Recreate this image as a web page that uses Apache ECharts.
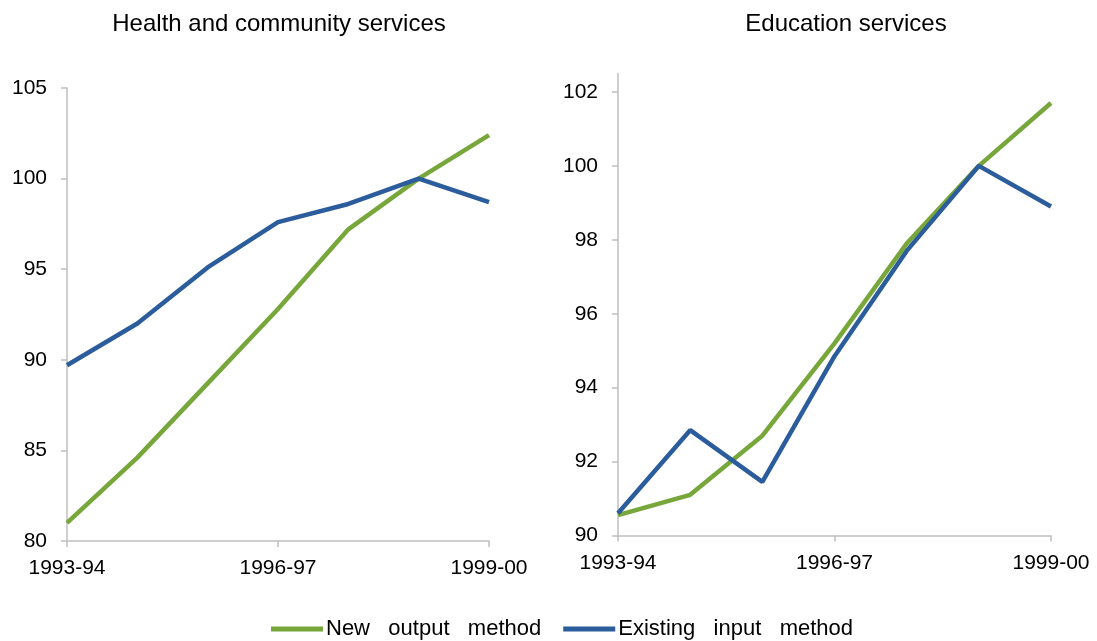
<!DOCTYPE html>
<html>
<head>
<meta charset="utf-8">
<script src="https://cdn.jsdelivr.net/npm/echarts@6/dist/echarts.min.js"></script>
<style>
html,body{margin:0;padding:0;background:#fff;}
#chart{width:1097px;height:641px;}
</style>
</head>
<body>
<div id="chart"></div>
<script>
const categories = ['1993-94','1994-95','1995-96','1996-97','1997-98','1998-99','1999-00'];
const seriesNames = ['New output method','Existing input method'];
const panelTitles = ['Health and community services','Education services'];

const healthNew = [81.0, 84.6, 88.7, 92.8, 97.2, 100.0, 102.4];
const healthExisting = [89.7, 92.0, 95.1, 97.6, 98.6, 100.0, 98.7];
const educationNew = [90.55, 91.1, 92.7, 95.2, 97.9, 100.0, 101.7];
const educationExisting = [90.6, 92.85, 91.45, 94.85, 97.7, 100.0, 98.9];

const healthTicks = [80, 85, 90, 95, 100, 105];
const educationTicks = [90, 92, 94, 96, 98, 100, 102];

const green = '#77A63A';
const blue = '#2B5C9C';
const axisGray = '#BFBFBF';
const font = 'Liberation Sans, Arial, sans-serif';

function xAxis(gi){
  return {
    type:'category', gridIndex:gi, data:categories, boundaryGap:false,
    axisLine:{lineStyle:{color:axisGray,width:1.5}},
    axisTick:{show:true, interval:2, length:6, lineStyle:{color:axisGray,width:1.5}},
    axisLabel:{interval:2, color:'#000', fontSize:21, fontFamily:font, margin:17},
    splitLine:{show:false}
  };
}
function yAxis(gi, min, max, interval, ticks){
  return {
    type:'value', gridIndex:gi, min:min, max:max, interval:interval,
    axisLine:{show:true, lineStyle:{color:axisGray,width:1.5}},
    axisTick:{show:true, length:6, inside:false, customValues:ticks, lineStyle:{color:axisGray,width:1.5}},
    axisLabel:{color:'#000', fontSize:21, fontFamily:font, margin:20, customValues:ticks},
    splitLine:{show:false}
  };
}
function line(name, xi, data, color){
  return {
    name:name, type:'line', xAxisIndex:xi, yAxisIndex:xi, data:data,
    symbol:'none', showSymbol:false, smooth:false,
    lineStyle:{color:color, width:4.5}, itemStyle:{color:color},
    z: color===blue ? 3 : 2, animation:false
  };
}

const chart = echarts.init(document.getElementById('chart'));
chart.setOption({
  animation:false,
  backgroundColor:'#fff',
  title:[
    {text:panelTitles[0], left:274, top:7, textAlign:'center', textStyle:{fontSize:24, fontWeight:'normal', color:'#000', fontFamily:font}},
    {text:panelTitles[1], left:841, top:7, textAlign:'center', textStyle:{fontSize:24, fontWeight:'normal', color:'#000', fontFamily:font}}
  ],
  legend:{
    data:seriesNames.map((n,i)=>({name:n, itemStyle:{color:i===0?green:blue}})),
    left:266, top:613, icon:'rect', itemWidth:52, itemHeight:5, itemGap:22,
    formatter:function(n){ return n.split(' ').join('   '); },
    textStyle:{fontSize:22, color:'#000', fontFamily:font, padding:[0,0,0,-2]}
  },
  grid:[
    {left:67, right:608, top:88, bottom:100, containLabel:false},
    {left:618, right:46, top:73.5, bottom:105.5, containLabel:false}
  ],
  xAxis:[xAxis(0), xAxis(1)],
  yAxis:[yAxis(0, 80, 105, 5, healthTicks), yAxis(1, 90, 102.5, 2, educationTicks)],
  series:[
    line(seriesNames[0], 0, healthNew, green),
    line(seriesNames[1], 0, healthExisting, blue),
    line(seriesNames[0], 1, educationNew, green),
    line(seriesNames[1], 1, educationExisting, blue)
  ]
});
</script>
</body>
</html>
